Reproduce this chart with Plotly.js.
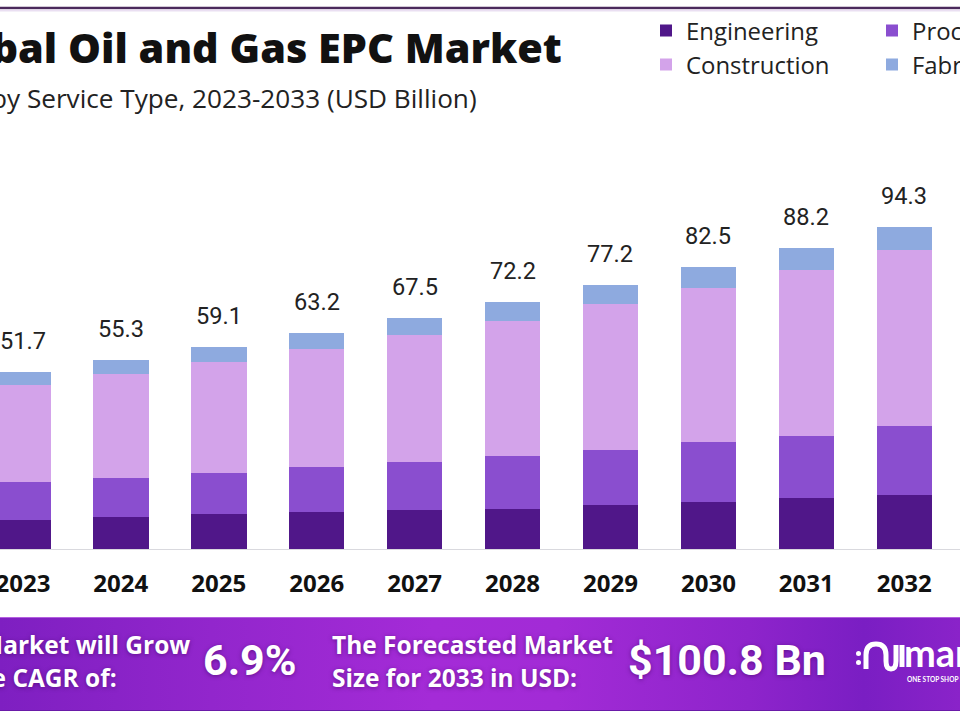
<!DOCTYPE html>
<html>
<head>
<meta charset="utf-8">
<script src="https://cdn.plot.ly/plotly-3.0.1.min.js"></script>
<style>
  html, body { margin: 0; padding: 0; background: #ffffff; overflow: hidden; }
  #wrap { position: relative; width: 960px; height: 720px; }
  /* purple ribbon behind the key-figures row */
  #ribbon {
    position: absolute; left: 0; top: 617px; width: 960px; height: 92px;
    background: linear-gradient(90deg, #7e1fc1 0%, #9226cc 22%, #a42bd7 45%, #a22bd6 58%, #8e24cb 78%, #7a1ec3 90%, #8a23c9 100%);
    border-top: 1px solid #b45fe0; border-bottom: 1px solid #6a1aa8;
  }
  #chart { position: absolute; left: 0; top: 0; width: 960px; height: 720px; }
</style>
</head>
<body>
<div id="wrap">
  <div id="ribbon"></div>
  <div id="chart"></div>
</div>
<script>
// Oil and gas EPC market by service type, USD billion
const years        = ['2023', '2024', '2025', '2026', '2027', '2028', '2029', '2030', '2031', '2032', '2033'];
const engineering  = [8.6, 9.5, 10.2, 10.8, 11.3, 11.8, 12.8, 13.7, 14.8, 15.9, 16.9];
const processing   = [11.0, 11.4, 12.0, 13.3, 14.2, 15.4, 16.2, 17.5, 18.4, 20.0, 21.3];
const construction = [28.3, 30.3, 32.5, 34.4, 37.3, 39.6, 42.8, 45.2, 48.5, 51.6, 55.2];
const fabrication  = [3.8, 4.1, 4.4, 4.7, 4.7, 5.4, 5.4, 6.1, 6.5, 6.8, 7.4];
const totals       = [51.7, 55.3, 59.1, 63.2, 67.5, 72.2, 77.2, 82.5, 88.2, 94.3, 100.8];

const cagrText     = '6.9%';
const forecastText = '$100.8 Bn';

// page geometry (pixels) and helpers to place decorations in paper units
const W = 960, H = 720;
const PLOT_TOP = 120, PLOT_BOTTOM = 549;
const PX_PER_UNIT = 3.415;
const px = x => x / W;
const py = y => (PLOT_BOTTOM - y) / (PLOT_BOTTOM - PLOT_TOP);

// text measuring, used to size fonts to the space they occupy
const ctx = document.createElement('canvas').getContext('2d');
function textWidth(text, family, weight, size) {
  ctx.font = weight + ' ' + size + 'px ' + family;
  return ctx.measureText(text).width;
}
function fitSize(text, family, weight, target) {
  return 100 * target / textWidth(text, family, weight, 100);
}

const colors = {
  engineering:  '#501789',
  processing:   '#8a4ecf',
  construction: '#d3a3ea',
  fabrication:  '#8eaadf'
};

const textFam = 'Open Sans';
const numFam  = 'Roboto';

const legendSize = fitSize('Engineering', textFam, 400, 132);
const tickSize   = fitSize('2024', textFam, 700, 55);
const valueSize  = fitSize('82.5', numFam, 400, 46);
const titleSize  = fitSize('Oil and Gas EPC Market', textFam, 800, 494);
const subSize    = fitSize('Service Type, 2023-2033 (USD Billion)', textFam, 400, 450);
const ribbonSize = Math.min(fitSize('The Forecasted Market', textFam, 700, 281), 26);
const bigSize    = fitSize(forecastText, numFam, 700, 198);

function barTrace(name, values, color, legendId) {
  return {
    type: 'bar',
    name: name,
    x: years,
    y: values,
    legend: legendId,
    legendgroup: name,
    marker: { color: color, line: { width: 0 } },
    hoverinfo: 'x+y+name'
  };
}

const traces = [
  barTrace('Engineering',  engineering,  colors.engineering,  'legend'),
  barTrace('Processing',   processing,   colors.processing,   'legend2'),
  barTrace('Construction', construction, colors.construction, 'legend'),
  barTrace('Fabrication',  fabrication,  colors.fabrication,  'legend2')
];

// totals above each stack (category axes take the serial number of the category)
const annotations = years.map((yr, i) => ({
  x: i, y: totals[i], xref: 'x', yref: 'y',
  text: totals[i].toFixed(1),
  showarrow: false, yanchor: 'bottom', yshift: 15,
  font: { family: numFam, size: valueSize, color: '#222222' }
}));

// headings
annotations.push({
  xref: 'paper', yref: 'paper', x: px(564), y: py(47),
  xanchor: 'right', yanchor: 'middle', showarrow: false,
  text: 'Global Oil and Gas EPC Market',
  font: { family: textFam, size: titleSize, color: '#111111', weight: 800 }
});
annotations.push({
  xref: 'paper', yref: 'paper', x: px(479), y: py(98),
  xanchor: 'right', yanchor: 'middle', showarrow: false,
  text: 'by Service Type, 2023-2033 (USD Billion)',
  font: { family: textFam, size: subSize, color: '#222222' }
});

// key figures on the ribbon
const glow = '0px 1px 4px rgba(60,0,90,0.55)';
const ribbonFont = { family: textFam, size: ribbonSize, color: '#ffffff', weight: 700, shadow: glow };
const growLine1 = 'The Market will Grow';
const growLine2 = 'At the CAGR of:';
const growRight = 191;
const growLeft = growRight - textWidth(growLine1, textFam, 700, ribbonSize);
annotations.push({
  xref: 'paper', yref: 'paper', x: px(growRight + 1), y: py(644),
  xanchor: 'right', yanchor: 'middle', showarrow: false,
  text: growLine1, font: ribbonFont
});
annotations.push({
  xref: 'paper', yref: 'paper', x: px(growLeft - 1), y: py(677),
  xanchor: 'left', yanchor: 'middle', showarrow: false,
  text: growLine2, font: ribbonFont
});
annotations.push({
  xref: 'paper', yref: 'paper', x: px(250), y: py(660),
  xanchor: 'center', yanchor: 'middle', showarrow: false,
  text: cagrText,
  font: { family: numFam, size: bigSize, color: '#ffffff', weight: 700, shadow: glow }
});
annotations.push({
  xref: 'paper', yref: 'paper', x: px(330), y: py(644),
  xanchor: 'left', yanchor: 'middle', showarrow: false,
  text: 'The Forecasted Market', font: ribbonFont
});
annotations.push({
  xref: 'paper', yref: 'paper', x: px(330), y: py(677),
  xanchor: 'left', yanchor: 'middle', showarrow: false,
  text: 'Size for 2033 in USD:', font: ribbonFont
});
annotations.push({
  xref: 'paper', yref: 'paper', x: px(727), y: py(660),
  xanchor: 'center', yanchor: 'middle', showarrow: false,
  text: forecastText,
  font: { family: numFam, size: bigSize, color: '#ffffff', weight: 700, shadow: glow }
});
annotations.push({
  xref: 'paper', yref: 'paper', x: px(902), y: py(652),
  xanchor: 'left', yanchor: 'middle', showarrow: false,
  text: 'market.us',
  font: { family: 'Lato', size: 38, color: '#ffffff', weight: 700 }
});
annotations.push({
  xref: 'paper', yref: 'paper', x: px(905), y: py(679),
  xanchor: 'left', yanchor: 'middle', showarrow: false,
  text: 'ONE STOP SHOP FOR THE REPORTS',
  font: { family: 'Lato', size: 6.5, color: '#ffffff', weight: 700 }
});

// logo mark drawn as a white stroke
function pathPx(cmds) {
  return cmds.map(c => c[0] + ' ' + c.slice(1).map((v, j) => (j % 2 === 0 ? px(v) : py(v))).join(' ')).join(' ');
}
const logoPath = pathPx([
  ['M', 866, 669], ['L', 866, 655], ['Q', 866, 644, 876, 644], ['Q', 886, 644, 886, 655],
  ['L', 886, 661], ['Q', 886, 669, 891, 669], ['Q', 896, 669, 896, 661], ['L', 896, 645]
]);

const shapes = [
  // rule across the top of the page
  { type: 'line', xref: 'paper', yref: 'paper', x0: 0, x1: 1, y0: py(8), y1: py(8),
    line: { color: '#4b2a5c', width: 2.5 } },
  { type: 'line', xref: 'paper', yref: 'paper', x0: 0, x1: 1, y0: py(10.5), y1: py(10.5),
    line: { color: '#eadff2', width: 2 } },
  { type: 'path', xref: 'paper', yref: 'paper', path: logoPath,
    line: { color: '#ffffff', width: 5 } },
  { type: 'line', xref: 'paper', yref: 'paper', x0: px(902), x1: px(902), y0: py(645), y1: py(667),
    line: { color: '#ffffff', width: 5 } },
  { type: 'circle', xref: 'paper', yref: 'paper', x0: px(856), x1: px(861), y0: py(651), y1: py(656),
    fillcolor: '#ffffff', line: { width: 0 } },
  { type: 'circle', xref: 'paper', yref: 'paper', x0: px(856), x1: px(861), y0: py(660), y1: py(665),
    fillcolor: '#ffffff', line: { width: 0 } }
];

const itemHeight = legendSize * 1.3 + 3;
const legendCommon = {
  orientation: 'v', traceorder: 'normal',
  tracegroupgap: Math.max(0, 33 - itemHeight),
  xref: 'container', yref: 'container', xanchor: 'left', yanchor: 'top',
  bgcolor: 'rgba(0,0,0,0)', borderwidth: 0,
  font: { family: textFam, size: legendSize, color: '#222222' }
};
const legendTop = 31 - 5.5 - Math.max(itemHeight, 33) / 2;

const layout = {
  width: W, height: H,
  margin: { l: 0, r: 0, t: PLOT_TOP, b: H - PLOT_BOTTOM, pad: 0, autoexpand: false },
  paper_bgcolor: 'rgba(0,0,0,0)',
  plot_bgcolor: 'rgba(0,0,0,0)',
  barmode: 'stack',
  bargap: 0.433,
  showlegend: true,
  legend:  Object.assign({ x: 646 / W, y: 1 - legendTop / H }, legendCommon),
  legend2: Object.assign({ x: 872 / W, y: 1 - legendTop / H }, legendCommon),
  xaxis: {
    type: 'category',
    range: [-0.234, 9.569],
    showgrid: false, zeroline: false,
    showline: true, linecolor: '#d9d9de', linewidth: 1,
    ticks: '', ticklabelstandoff: 13,
    tickfont: { family: textFam, size: tickSize, color: '#111111', weight: 700 },
    fixedrange: true
  },
  yaxis: {
    range: [0, (PLOT_BOTTOM - PLOT_TOP) / PX_PER_UNIT],
    showgrid: false, zeroline: false, showline: false,
    showticklabels: false, ticks: '',
    fixedrange: true
  },
  annotations: annotations,
  shapes: shapes
};

Plotly.newPlot('chart', traces, layout, { displayModeBar: false, staticPlot: true });
</script>
</body>
</html>
